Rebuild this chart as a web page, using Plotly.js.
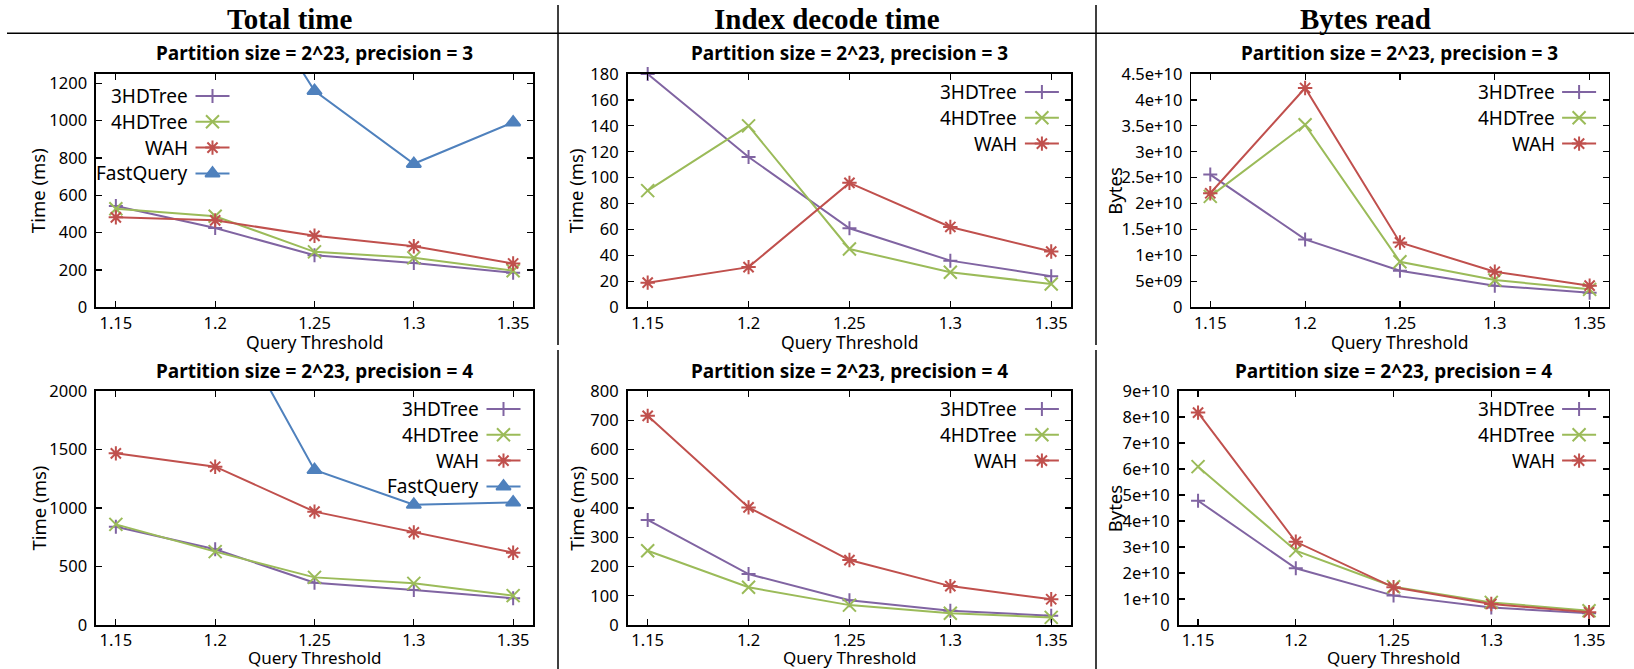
<!DOCTYPE html>
<html>
<head>
<meta charset="utf-8">
<script src="https://cdn.plot.ly/plotly-3.0.1.min.js"></script>
<style>
  html, body { margin: 0; padding: 0; background: #fff; }
  #chart { width: 1634px; height: 669px; }
</style>
</head>
<body>
<div id="chart"></div>
<script>
// ---------------- DATA ----------------
const thresholds = [1.15, 1.2, 1.25, 1.3, 1.35];
const xTickLabels = ['1.15', '1.2', '1.25', '1.3', '1.35'];
const seriesNames = ['3HDTree', '4HDTree', 'WAH', 'FastQuery'];
const columnHeaders = ['Total time', 'Index decode time', 'Bytes read'];
const panelTitles = ['Partition size = 2^23, precision = 3', 'Partition size = 2^23, precision = 4'];

// Total time (ms), precision = 3
const totalP3_3HDTree   = [543, 425, 279, 238, 185];
const totalP3_4HDTree   = [528, 488, 297, 265, 196];
const totalP3_WAH       = [482, 466, 383, 327, 235];
const totalP3_FastQuery = [2600, 2000, 1160, 769, 991];

// Index decode time (ms), precision = 3
const decodeP3_3HDTree = [180, 116, 61, 36, 24];
const decodeP3_4HDTree = [90, 140, 45, 27, 18];
const decodeP3_WAH     = [19, 31, 96, 62, 43];

// Bytes read, precision = 3
const bytesP3_3HDTree = [2.56e10, 1.31e10, 0.705e10, 0.417e10, 0.282e10];
const bytesP3_4HDTree = [2.14e10, 3.52e10, 0.878e10, 0.526e10, 0.346e10];
const bytesP3_WAH     = [2.20e10, 4.23e10, 1.25e10, 0.686e10, 0.417e10];

// Total time (ms), precision = 4
const totalP4_3HDTree   = [840, 647, 362, 299, 228];
const totalP4_4HDTree   = [860, 627, 407, 356, 251];
const totalP4_WAH       = [1467, 1353, 969, 792, 618];
const totalP4_FastQuery = [3500, 2860, 1325, 1028, 1048];

// Index decode time (ms), precision = 4
const decodeP4_3HDTree = [359, 174, 85, 49, 32];
const decodeP4_4HDTree = [254, 129, 68, 40, 26];
const decodeP4_WAH     = [715, 402, 222, 133, 88];

// Bytes read, precision = 4
const bytesP4_3HDTree = [4.78e10, 2.18e10, 1.13e10, 0.67e10, 0.45e10];
const bytesP4_4HDTree = [6.09e10, 2.86e10, 1.47e10, 0.87e10, 0.55e10];
const bytesP4_WAH     = [8.17e10, 3.20e10, 1.45e10, 0.81e10, 0.49e10];

// Y tick values / labels
const timeP3Ticks = [0, 200, 400, 600, 800, 1000, 1200];
const decodeP3Ticks = [0, 20, 40, 60, 80, 100, 120, 140, 160, 180];
const bytesP3Ticks = [0, 5e9, 1e10, 1.5e10, 2e10, 2.5e10, 3e10, 3.5e10, 4e10, 4.5e10];
const bytesP3TickLabels = ['0', '5e+09', '1e+10', '1.5e+10', '2e+10', '2.5e+10', '3e+10', '3.5e+10', '4e+10', '4.5e+10'];
const timeP4Ticks = [0, 500, 1000, 1500, 2000];
const decodeP4Ticks = [0, 100, 200, 300, 400, 500, 600, 700, 800];
const bytesP4Ticks = [0, 1e10, 2e10, 3e10, 4e10, 5e10, 6e10, 7e10, 8e10, 9e10];
const bytesP4TickLabels = ['0', '1e+10', '2e+10', '3e+10', '4e+10', '5e+10', '6e+10', '7e+10', '8e+10', '9e+10'];

// ---------------- STYLE / LAYOUT ----------------
const W = 1634, H = 669;
const FONT = 'Noto Sans, Open Sans, DejaVu Sans, sans-serif';
const styles = {
  '3HDTree':   { color: '#8064A2', symbol: 'cross-thin-open', size: 10 },
  '4HDTree':   { color: '#9BBB59', symbol: 'x-thin-open', size: 13 },
  'WAH':       { color: '#C0504D', symbol: 'asterisk-open', size: 12 },
  'FastQuery': { color: '#4F81BD', symbol: 'triangle-up', size: 12.5 }
};

const panels = [
  { box: [96, 533, 74, 307.3], range: [0, 1250], ticks: timeP3Ticks, labels: null, ytitle: 'Time (ms)', ytx: 37.5,
    title: panelTitles[0], titleY: 53.3, xtY: 341.5, xtSize: 17.5, legendLeft: true,
    series: { '3HDTree': totalP3_3HDTree, '4HDTree': totalP3_4HDTree, 'WAH': totalP3_WAH, 'FastQuery': totalP3_FastQuery } },
  { box: [627.5, 1071.4, 74, 307.3], range: [0, 180], ticks: decodeP3Ticks, labels: null, ytitle: 'Time (ms)', ytx: 575.7,
    title: panelTitles[0], titleY: 53.3, xtY: 341.5, xtSize: 17.5,
    series: { '3HDTree': decodeP3_3HDTree, '4HDTree': decodeP3_4HDTree, 'WAH': decodeP3_WAH } },
  { box: [1191.3, 1608.6, 74, 307.3], range: [0, 4.5e10], ticks: bytesP3Ticks, labels: bytesP3TickLabels, ytitle: 'Bytes', ytx: 1115,
    title: panelTitles[0], titleY: 53.3, xtY: 341.5, xtSize: 17.5,
    series: { '3HDTree': bytesP3_3HDTree, '4HDTree': bytesP3_4HDTree, 'WAH': bytesP3_WAH } },
  { box: [96, 533, 391, 625], range: [0, 2000], ticks: timeP4Ticks, labels: null, ytitle: 'Time (ms)', ytx: 37.5,
    title: panelTitles[1], titleY: 370.7, xtY: 657, xtSize: 17,
    series: { '3HDTree': totalP4_3HDTree, '4HDTree': totalP4_4HDTree, 'WAH': totalP4_WAH, 'FastQuery': totalP4_FastQuery } },
  { box: [627.5, 1071.4, 391, 625], range: [0, 800], ticks: decodeP4Ticks, labels: null, ytitle: 'Time (ms)', ytx: 575.7,
    title: panelTitles[1], titleY: 370.7, xtY: 657, xtSize: 17,
    series: { '3HDTree': decodeP4_3HDTree, '4HDTree': decodeP4_4HDTree, 'WAH': decodeP4_WAH } },
  { box: [1178.5, 1608.6, 391, 625], range: [0, 9e10], ticks: bytesP4Ticks, labels: bytesP4TickLabels, ytitle: 'Bytes', ytx: 1114.3,
    title: panelTitles[1], titleY: 370.7, xtY: 657, xtSize: 17,
    series: { '3HDTree': bytesP4_3HDTree, '4HDTree': bytesP4_4HDTree, 'WAH': bytesP4_WAH } }
];

const px = x => x / W;
const py = y => 1 - y / H;

const data = [];
const layout = {
  width: W, height: H,
  margin: { l: 0, r: 0, t: 0, b: 0 },
  paper_bgcolor: '#ffffff', plot_bgcolor: 'rgba(0,0,0,0)',
  showlegend: false,
  font: { family: FONT, size: 16, color: '#000' },
  annotations: [], shapes: []
};

panels.forEach((p, i) => {
  const n = i + 1;
  const xa = 'xaxis' + (n === 1 ? '' : n), ya = 'yaxis' + (n === 1 ? '' : n);
  const xr = 'x' + (n === 1 ? '' : n), yr = 'y' + (n === 1 ? '' : n);
  const [x0, x1, y0, y1] = p.box;
  const common = {
    showline: true, linecolor: '#000', linewidth: 1.6, mirror: 'allticks',
    ticks: 'inside', ticklen: 6, tickwidth: 1.2, tickcolor: '#000',
    showgrid: false, zeroline: false, fixedrange: true,
    tickfont: { family: FONT, size: 16.5, color: '#000' }
  };
  layout[xa] = Object.assign({}, common, {
    domain: [px(x0), px(x1)], anchor: yr, range: [1.14, 1.36],
    tickmode: 'array', tickvals: thresholds, ticktext: xTickLabels, ticklabelstandoff: 0
  });
  layout[ya] = Object.assign({}, common, {
    domain: [py(y1), py(y0)], anchor: xr, range: p.range,
    tickmode: 'array', tickvals: p.ticks, ticktext: p.labels || p.ticks.map(String), ticklabelstandoff: 4
  });

  // legend overlay axes
  const ln = n + 6;
  layout['xaxis' + ln] = { overlaying: xr, anchor: 'y' + ln, range: [0, 1], visible: false, fixedrange: true };
  layout['yaxis' + ln] = { overlaying: yr, anchor: 'x' + ln, range: [0, 1], visible: false, fixedrange: true };

  const names = Object.keys(p.series);
  names.forEach((name, k) => {
    const st = styles[name];
    data.push({
      type: 'scatter', mode: 'lines+markers', name: name,
      x: thresholds, y: p.series[name], xaxis: xr, yaxis: yr,
      cliponaxis: name === 'FastQuery',
      line: { color: st.color, width: 2 },
      marker: { symbol: st.symbol, size: st.size, color: st.color, line: { color: st.color, width: 2 } },
      hoverinfo: 'skip'
    });
    // legend entry (gnuplot style: text then sample)
    let textEnd, mark, rowY;
    if (p.legendLeft) { textEnd = 190.4; mark = 212.5; rowY = 96 + k * 25.8; }
    else { textEnd = x1 - 52; mark = x1 - 29.5; rowY = y0 + 18 + k * 25.8; }
    const fx = v => (v - x0) / (x1 - x0);
    const fy = v => (y1 - v) / (y1 - y0);
    data.push({
      type: 'scatter', mode: 'lines', x: [fx(mark - 17), fx(mark + 17)], y: [fy(rowY), fy(rowY)],
      xaxis: 'x' + ln, yaxis: 'y' + ln, line: { color: st.color, width: 2 }, hoverinfo: 'skip', cliponaxis: false
    });
    data.push({
      type: 'scatter', mode: 'markers', x: [fx(mark)], y: [fy(rowY)],
      xaxis: 'x' + ln, yaxis: 'y' + ln, cliponaxis: false,
      marker: { symbol: st.symbol, size: st.size, color: st.color, line: { color: st.color, width: 2 } },
      hoverinfo: 'skip'
    });
    layout.annotations.push({
      xref: 'paper', yref: 'paper', x: px(textEnd), y: py(rowY), xanchor: 'right', yanchor: 'middle',
      text: name, showarrow: false, font: { family: FONT, size: 19, color: '#000' }
    });
  });

  // panel title
  layout.annotations.push({
    xref: 'paper', yref: 'paper', x: px((x0 + x1) / 2), y: py(p.titleY), xanchor: 'center', yanchor: 'middle',
    text: p.title, showarrow: false, font: { family: FONT, size: 19, color: '#000', weight: 'bold' }
  });
  // y title
  layout.annotations.push({
    xref: 'paper', yref: 'paper', x: px(p.ytx), y: py((y0 + y1) / 2), xanchor: 'center', yanchor: 'middle',
    text: p.ytitle, textangle: -90, showarrow: false, font: { family: FONT, size: 18.5, color: '#000' }
  });
  // x title
  layout.annotations.push({
    xref: 'paper', yref: 'paper', x: px((x0 + x1) / 2), y: py(p.xtY), xanchor: 'center', yanchor: 'middle',
    text: 'Query Threshold', showarrow: false, borderpad: 0, font: { family: FONT, size: p.xtSize, color: '#000' }
  });
});

// column headers
const headerX = [290, 827, 1365.5];
columnHeaders.forEach((h, i) => {
  layout.annotations.push({
    xref: 'paper', yref: 'paper', x: px(headerX[i]), y: py(19.5), xanchor: 'center', yanchor: 'middle',
    text: h, showarrow: false, font: { family: 'Liberation Serif, DejaVu Serif, serif', size: 29, color: '#000', weight: 'bold' }
  });
});

// table rules
const rule = { type: 'line', xref: 'paper', yref: 'paper', line: { color: '#000', width: 1.5 } };
layout.shapes.push(Object.assign({}, rule, { x0: px(7), x1: 1, y0: py(33.3), y1: py(33.3) }));
[558, 1096].forEach(x => {
  layout.shapes.push(Object.assign({}, rule, { x0: px(x), x1: px(x), y0: py(5), y1: py(345) }));
  layout.shapes.push(Object.assign({}, rule, { x0: px(x), x1: px(x), y0: py(350), y1: 0 }));
});

Plotly.newPlot('chart', data, layout, { staticPlot: true, displayModeBar: false });
</script>
</body>
</html>
